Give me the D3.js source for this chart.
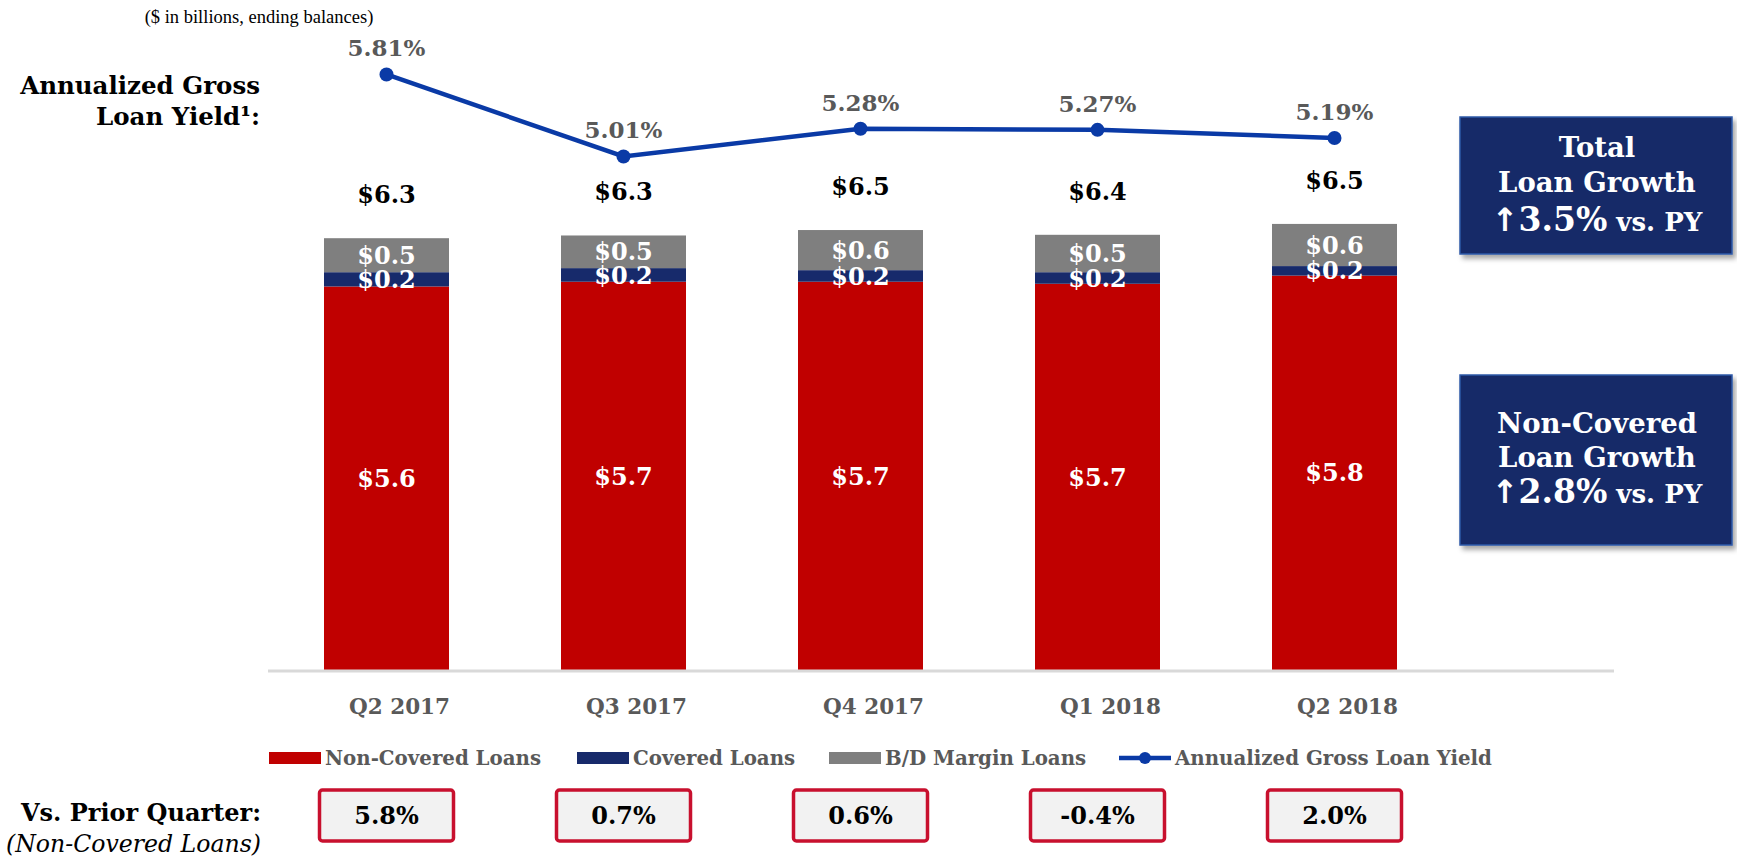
<!DOCTYPE html>
<html>
<head>
<meta charset="utf-8">
<script src="https://cdn.jsdelivr.net/npm/d3@7"></script>
<style>
  body { margin: 0; background: #fff; }
</style>
</head>
<body>
<script>
// quarters and balances ($ in billions)
const quarters = ["Q2 2017", "Q3 2017", "Q4 2017", "Q1 2018", "Q2 2018"];
const nonCovered = [5.64, 5.71, 5.71, 5.68, 5.80];
const covered = [0.21, 0.20, 0.17, 0.17, 0.14];
const bdMargin = [0.50, 0.48, 0.59, 0.55, 0.62];
const grossYield = [5.81, 5.01, 5.28, 5.27, 5.19];

// labels as printed on the slide
const nonCoveredLabels = ["$5.6", "$5.7", "$5.7", "$5.7", "$5.8"];
const coveredLabels = ["$0.2", "$0.2", "$0.2", "$0.2", "$0.2"];
const bdMarginLabels = ["$0.5", "$0.5", "$0.6", "$0.5", "$0.6"];
const totalLabels = ["$6.3", "$6.3", "$6.5", "$6.4", "$6.5"];
const yieldLabels = ["5.81%", "5.01%", "5.28%", "5.27%", "5.19%"];
const priorQuarter = ["5.8%", "0.7%", "0.6%", "-0.4%", "2.0%"];

const seriesNames = ["Non-Covered Loans", "Covered Loans", "B/D Margin Loans"];
const seriesColors = ["#c00000", "#172a6b", "#7f7f7f"];
const lineName = "Annualized Gross Loan Yield";
const lineColor = "#0a3aa6";

const width = 1737, height = 859;
const baseY = 670;
const serif = "DejaVu Serif, serif";

const svg = d3.select("body").append("svg")
    .attr("width", width)
    .attr("height", height)
    .attr("font-family", serif);

const defs = svg.append("defs");
const shadow = defs.append("filter").attr("id", "shadow")
    .attr("x", "-10%").attr("y", "-10%").attr("width", "130%").attr("height", "130%");
shadow.append("feDropShadow")
    .attr("dx", 3).attr("dy", 4).attr("stdDeviation", 2.5)
    .attr("flood-color", "#000").attr("flood-opacity", 0.35);

const x = d3.scaleBand()
    .domain(quarters)
    .range([268, 1453])
    .paddingInner(0.4726)
    .paddingOuter(0.2363);

const yBar = d3.scaleLinear().domain([0, 9]).range([baseY, 58]);
const yLine = d3.scaleLinear().domain([0, 6]).range([baseY, 55]);

const rows = quarters.map((q, i) => ({
    q: q,
    nc: nonCovered[i],
    cov: covered[i],
    bd: bdMargin[i]
}));
const keys = ["nc", "cov", "bd"];
const stacked = d3.stack().keys(keys)(rows);
const segLabels = [nonCoveredLabels, coveredLabels, bdMarginLabels];

// stacked bars
const layers = svg.append("g").selectAll("g")
    .data(stacked)
    .enter().append("g")
    .attr("fill", (d, i) => seriesColors[i]);

layers.selectAll("rect")
    .data(d => d)
    .enter().append("rect")
    .attr("x", d => x(d.data.q))
    .attr("y", d => yBar(d[1]))
    .attr("width", x.bandwidth())
    .attr("height", d => yBar(d[0]) - yBar(d[1]));

// segment labels
stacked.forEach((layer, li) => {
    svg.append("g").selectAll("text")
        .data(layer)
        .enter().append("text")
        .attr("x", d => x(d.data.q) + x.bandwidth() / 2)
        .attr("y", d => (yBar(d[0]) + yBar(d[1])) / 2)
        .attr("dy", "0.36em")
        .attr("text-anchor", "middle")
        .attr("fill", "#fff")
        .attr("font-weight", "bold")
        .attr("font-size", 24)
        .text((d, i) => segLabels[li][i]);
});

// totals
const topLayer = stacked[stacked.length - 1];
svg.append("g").selectAll("text")
    .data(topLayer)
    .enter().append("text")
    .attr("x", d => x(d.data.q) + x.bandwidth() / 2)
    .attr("y", d => yBar(d[1]) - 35)
    .attr("text-anchor", "middle")
    .attr("fill", "#000")
    .attr("font-weight", "bold")
    .attr("font-size", 24)
    .text((d, i) => totalLabels[i]);

// axis (labels sit a little right of the bar centres, as on the slide)
const xAxis = d3.axisBottom(x).tickSize(0).tickPadding(0);
const axisG = svg.append("g")
    .attr("transform", `translate(0,${baseY})`)
    .call(xAxis);
axisG.select(".domain").remove();
axisG.selectAll("text")
    .attr("x", 13)
    .attr("y", 44)
    .attr("dy", null)
    .attr("fill", "#595959")
    .attr("font-family", serif)
    .attr("font-weight", "bold")
    .attr("font-size", 21.5);

svg.append("line")
    .attr("x1", 268).attr("x2", 1614)
    .attr("y1", baseY + 1).attr("y2", baseY + 1)
    .attr("stroke", "#d9d9d9")
    .attr("stroke-width", 3);

// yield line
const cx = q => x(q) + x.bandwidth() / 2;
const line = d3.line()
    .x((d, i) => cx(quarters[i]))
    .y(d => yLine(d));

svg.append("path")
    .datum(grossYield)
    .attr("d", line)
    .attr("fill", "none")
    .attr("stroke", lineColor)
    .attr("stroke-width", 4.5);

svg.append("g").selectAll("circle")
    .data(grossYield)
    .enter().append("circle")
    .attr("cx", (d, i) => cx(quarters[i]))
    .attr("cy", d => yLine(d))
    .attr("r", 7)
    .attr("fill", lineColor);

svg.append("g").selectAll("text")
    .data(grossYield)
    .enter().append("text")
    .attr("x", (d, i) => cx(quarters[i]))
    .attr("y", d => yLine(d) - 18)
    .attr("text-anchor", "middle")
    .attr("fill", "#595959")
    .attr("font-weight", "bold")
    .attr("font-size", 23)
    .text((d, i) => yieldLabels[i]);

// subtitle and left captions
svg.append("text")
    .attr("x", 259).attr("y", 23)
    .attr("text-anchor", "middle")
    .attr("font-family", "Liberation Serif, serif")
    .attr("font-size", 18.5)
    .text("($ in billions, ending balances)");

const leftCap = svg.append("g")
    .attr("text-anchor", "end")
    .attr("font-weight", "bold")
    .attr("font-size", 24.5);
leftCap.append("text").attr("x", 260).attr("y", 94).text("Annualized Gross");
leftCap.append("text").attr("x", 260).attr("y", 125).text("Loan Yield\u00b9:");

// legend
const legendItems = [
    {name: seriesNames[0], color: seriesColors[0], x: 269},
    {name: seriesNames[1], color: seriesColors[1], x: 577},
    {name: seriesNames[2], color: seriesColors[2], x: 829},
    {name: lineName, color: lineColor, x: 1119, line: true}
];
const legend = svg.append("g").attr("transform", "translate(0,758)");
legendItems.forEach(it => {
    const g = legend.append("g").attr("transform", `translate(${it.x},0)`);
    if (it.line) {
        g.append("line")
            .attr("x1", 0).attr("x2", 52)
            .attr("stroke", it.color).attr("stroke-width", 4.5);
        g.append("circle").attr("cx", 26).attr("r", 6).attr("fill", it.color);
    } else {
        g.append("rect")
            .attr("y", -6).attr("width", 52).attr("height", 12)
            .attr("fill", it.color);
    }
    g.append("text")
        .attr("x", 56).attr("y", 0).attr("dy", "0.35em")
        .attr("fill", "#595959")
        .attr("font-weight", "bold")
        .attr("font-size", 19.8)
        .text(it.name);
});

// vs prior quarter boxes
const pq = svg.append("g");
pq.append("text")
    .attr("x", 261).attr("y", 821)
    .attr("text-anchor", "end")
    .attr("font-weight", "bold")
    .attr("font-size", 24)
    .text("Vs. Prior Quarter:");
pq.append("text")
    .attr("x", 261).attr("y", 852)
    .attr("text-anchor", "end")
    .attr("font-style", "italic")
    .attr("font-size", 23.6)
    .text("(Non-Covered Loans)");

const boxW = 134, boxH = 51;
const boxes = pq.selectAll("g.box")
    .data(priorQuarter)
    .enter().append("g")
    .attr("class", "box")
    .attr("transform", (d, i) => `translate(${cx(quarters[i])},${790 + boxH / 2})`);
boxes.append("rect")
    .attr("x", -boxW / 2).attr("y", -boxH / 2)
    .attr("width", boxW).attr("height", boxH)
    .attr("rx", 3)
    .attr("fill", "#f2f2f2")
    .attr("stroke", "#c8102e")
    .attr("stroke-width", 3.5);
boxes.append("text")
    .attr("text-anchor", "middle")
    .attr("dy", "0.36em")
    .attr("font-weight", "bold")
    .attr("font-size", 24)
    .text(d => d);

// call-out boxes on the right
const callouts = [
    {y: 117, h: 137, lines: ["Total", "Loan Growth"], pct: "3.5%", ys: [147, 182, 225]},
    {y: 375, h: 170, lines: ["Non-Covered", "Loan Growth"], pct: "2.8%", ys: [423, 457, 497]}
];
callouts.forEach(c => {
    const g = svg.append("g");
    g.append("rect")
        .attr("x", 1460).attr("y", c.y)
        .attr("width", 272).attr("height", c.h)
        .attr("fill", "#172a67")
        .attr("stroke", "#2f5aa8")
        .attr("stroke-width", 1.5)
        .attr("filter", "url(#shadow)");
    c.lines.forEach((l, i) => {
        g.append("text")
            .attr("x", 1597).attr("y", c.ys[i])
            .attr("dy", "0.36em")
            .attr("text-anchor", "middle")
            .attr("fill", "#fff")
            .attr("font-weight", "bold")
            .attr("font-size", 27.5)
            .text(l);
    });
    const t = g.append("text")
        .attr("x", 1597).attr("y", c.ys[2])
        .attr("dy", "0.36em")
        .attr("text-anchor", "middle")
        .attr("fill", "#fff")
        .attr("font-weight", "bold");
    t.append("tspan").attr("font-size", 32).attr("font-family", "DejaVu Sans, sans-serif").text("\u2191");
    t.append("tspan").attr("font-size", 33).text(c.pct);
    t.append("tspan").attr("font-size", 26).text(" vs. PY");
});
</script>
</body>
</html>
